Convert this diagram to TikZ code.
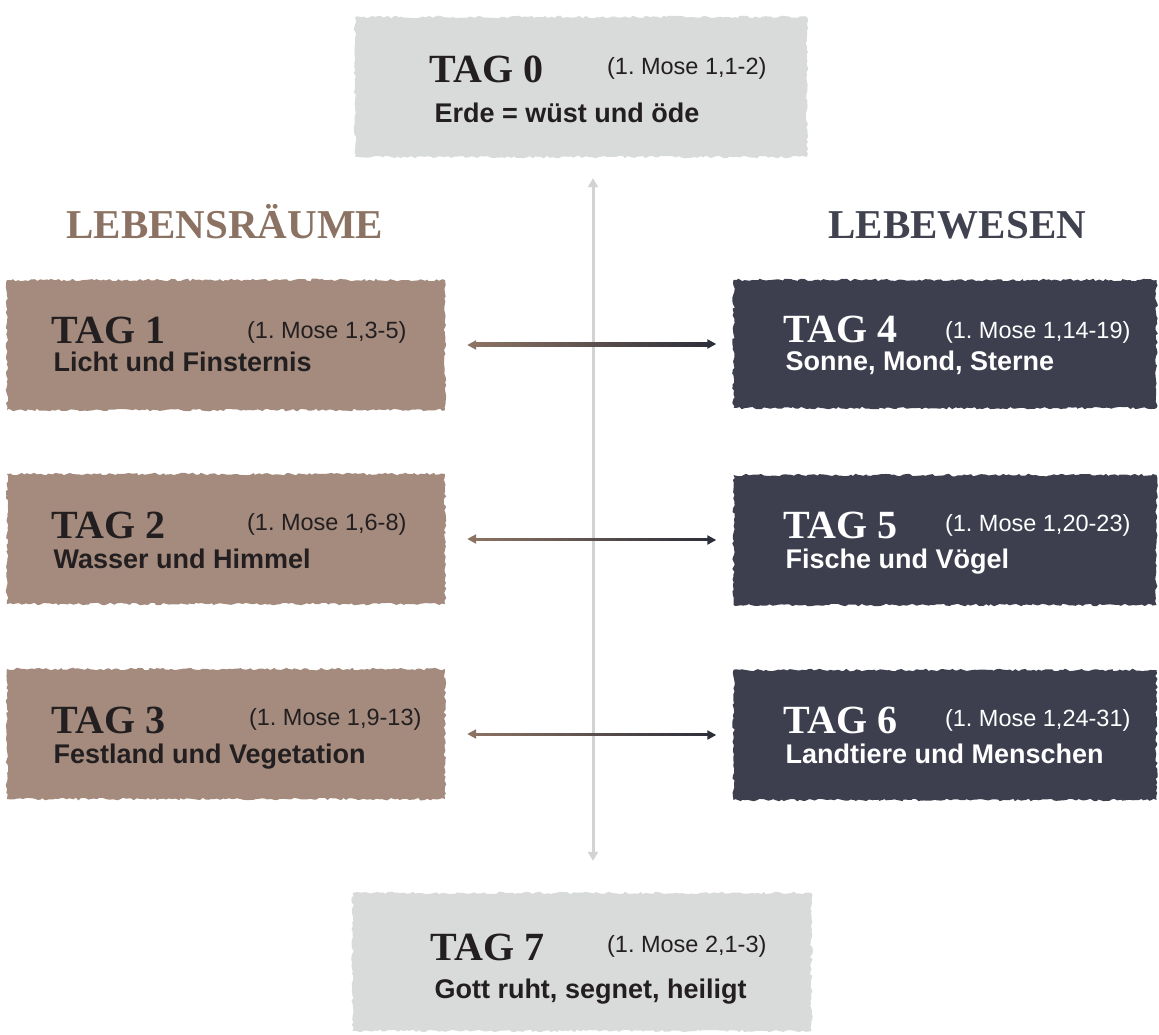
\documentclass[tikz,border=0pt]{standalone}
\usepackage{fontspec}
\setmainfont{Liberation Sans}
\newfontfamily\tagfont{Liberation Serif}
\usetikzlibrary{arrows.meta, calc, decorations.pathmorphing}
\frenchspacing

\definecolor{braun}{HTML}{A48B7E}
\definecolor{braundunkel}{HTML}{8B7262}
\definecolor{nacht}{HTML}{3D3F4F}
\definecolor{nachttitel}{HTML}{40424F}
\definecolor{pfeildunkel}{HTML}{2D2F3A}
\definecolor{nebel}{HTML}{D9DADA}
\definecolor{tinte}{HTML}{231F20}
\definecolor{linie}{HTML}{D3D3D3}

\begin{document}
\begin{tikzpicture}[x=1pt, y=-1pt,
    box/.style={rectangle, inner sep=0pt, decorate,
        decoration={random steps, segment length=3pt, amplitude=1.3pt}},
    tagtext/.style={anchor=base west, font=\tagfont\bfseries\fontsize{40}{42}\selectfont},
    stelle/.style={anchor=base east, font=\fontsize{23.5}{26}\selectfont},
    inhalt/.style={anchor=base west, font=\bfseries\fontsize{27}{30}\selectfont},
    titel/.style={anchor=base west, font=\tagfont\bfseries\fontsize{41}{43}\selectfont}]
    \pgfmathsetseed{11}
    % 0. Bildgroesse wie im Original
    \useasboundingbox (0,0) rectangle (1159,1035);

    % 1. Tag 0 oben in der Mitte (grau)
    \node[box, fill=nebel, minimum width=452pt, minimum height=140pt] (t0) at (581,87) {};
    \node[tagtext, text=tinte] (k0) at ($(t0.center)+(-155,-4)$) {TAG 0};
    \node[stelle, text=tinte] (s0) at ($(t0.center)+(189,-12)$) {(1. Mose 1,1-2)};
    \node[inhalt, text=tinte] (i0) at ($(t0.center)+(-150,36)$) {Erde = wüst und öde};

    % 2. Ueberschriften der beiden Spalten
    \node[titel, text=braundunkel] (lr) at (63,238) {LEBENSRÄUME};
    \node[titel, text=nachttitel] (lw) at (825,238) {LEBEWESEN};

    % 3. linke Spalte: Tag 1 bis 3 (braun)
    \node[box, fill=braun, minimum width=438pt, minimum height=130pt] (t1) at (226,345) {};
    \node[tagtext, text=tinte] (k1) at ($(t1.center)+(-178,-2)$) {TAG 1};
    \node[stelle, text=tinte] (s1) at ($(t1.center)+(184,-7)$) {(1. Mose 1,3-5)};
    \node[inhalt, text=tinte] (i1) at ($(t1.center)+(-176,26)$) {Licht und Finsternis};

    \node[box, fill=braun, minimum width=438pt, minimum height=130pt] (t2) at (226,539) {};
    \node[tagtext, text=tinte] (k2) at ($(t2.center)+(-178,-1)$) {TAG 2};
    \node[stelle, text=tinte] (s2) at ($(t2.center)+(184,-9)$) {(1. Mose 1,6-8)};
    \node[inhalt, text=tinte] (i2) at ($(t2.center)+(-176,29)$) {Wasser und Himmel};

    \node[box, fill=braun, minimum width=438pt, minimum height=130pt] (t3) at (226,734) {};
    \node[tagtext, text=tinte] (k3) at ($(t3.center)+(-178,-1)$) {TAG 3};
    \node[stelle, text=tinte] (s3) at ($(t3.center)+(199,-9)$) {(1. Mose 1,9-13)};
    \node[inhalt, text=tinte] (i3) at ($(t3.center)+(-176,29)$) {Festland und Vegetation};

    % 4. rechte Spalte: Tag 4 bis 6 (dunkel)
    \node[box, fill=nacht, minimum width=423pt, minimum height=128pt] (t4) at (945,344) {};
    \node[tagtext, text=white] (k4) at ($(t4.center)+(-165,-2)$) {TAG 4};
    \node[stelle, text=white] (s4) at ($(t4.center)+(189,-6)$) {(1. Mose 1,14-19)};
    \node[inhalt, text=white] (i4) at ($(t4.center)+(-163,26)$) {Sonne, Mond, Sterne};

    \node[box, fill=nacht, minimum width=423pt, minimum height=130pt] (t5) at (945,540) {};
    \node[tagtext, text=white] (k5) at ($(t5.center)+(-165,-2)$) {TAG 5};
    \node[stelle, text=white] (s5) at ($(t5.center)+(189,-9)$) {(1. Mose 1,20-23)};
    \node[inhalt, text=white] (i5) at ($(t5.center)+(-163,28)$) {Fische und Vögel};

    \node[box, fill=nacht, minimum width=423pt, minimum height=130pt] (t6) at (945,735) {};
    \node[tagtext, text=white] (k6) at ($(t6.center)+(-165,-2)$) {TAG 6};
    \node[stelle, text=white] (s6) at ($(t6.center)+(189,-9)$) {(1. Mose 1,24-31)};
    \node[inhalt, text=white] (i6) at ($(t6.center)+(-163,28)$) {Landtiere und Menschen};

    % 5. Tag 7 unten in der Mitte (grau)
    \node[box, fill=nebel, minimum width=459pt, minimum height=138pt] (t7) at (582,962) {};
    \node[tagtext, text=tinte] (k7) at ($(t7.center)+(-155,-2)$) {TAG 7};
    \node[stelle, text=tinte] (s7) at ($(t7.center)+(188,-10)$) {(1. Mose 2,1-3)};
    \node[inhalt, text=tinte] (i7) at ($(t7.center)+(-151,36)$) {Gott ruht, segnet, heiligt};

    % 6. senkrechte Achse zwischen Tag 0 und Tag 7
    \draw[linie, line width=3pt, {Triangle[length=9pt,width=10pt]}-{Triangle[length=9pt,width=10pt]},
        shorten <=21pt, shorten >=32pt] ([xshift=12pt]t0.south) -- ([xshift=11pt]t7.north);

    % 7. waagrechte Pfeile (braun nach dunkel verlaufend)
    \shade[left color=braundunkel, middle color=pfeildunkel, right color=pfeildunkel]
        ([xshift=30pt,yshift=-1.1pt]t1.east) rectangle ([xshift=-25pt,yshift=1.1pt]t4.west);
    \draw[braundunkel, line width=2.2pt, {Triangle[length=9pt,width=9pt]}-, shorten <=22pt]
        (t1.east) -- ([xshift=32pt]t1.east);
    \draw[pfeildunkel, line width=2.2pt, -{Triangle[length=9pt,width=9pt]}, shorten >=17pt]
        ([xshift=-27pt]t4.west) -- (t4.west);

    \shade[left color=braundunkel, middle color=pfeildunkel, right color=pfeildunkel]
        ([xshift=30pt,yshift=-1.1pt]t2.east) rectangle ([xshift=-25pt,yshift=1.1pt]t5.west);
    \draw[braundunkel, line width=2.2pt, {Triangle[length=9pt,width=9pt]}-, shorten <=22pt]
        (t2.east) -- ([xshift=32pt]t2.east);
    \draw[pfeildunkel, line width=2.2pt, -{Triangle[length=9pt,width=9pt]}, shorten >=17pt]
        ([xshift=-27pt]t5.west) -- (t5.west);

    \shade[left color=braundunkel, middle color=pfeildunkel, right color=pfeildunkel]
        ([xshift=30pt,yshift=-1.1pt]t3.east) rectangle ([xshift=-25pt,yshift=1.1pt]t6.west);
    \draw[braundunkel, line width=2.2pt, {Triangle[length=9pt,width=9pt]}-, shorten <=22pt]
        (t3.east) -- ([xshift=32pt]t3.east);
    \draw[pfeildunkel, line width=2.2pt, -{Triangle[length=9pt,width=9pt]}, shorten >=17pt]
        ([xshift=-27pt]t6.west) -- (t6.west);

\end{tikzpicture}
\end{document}
